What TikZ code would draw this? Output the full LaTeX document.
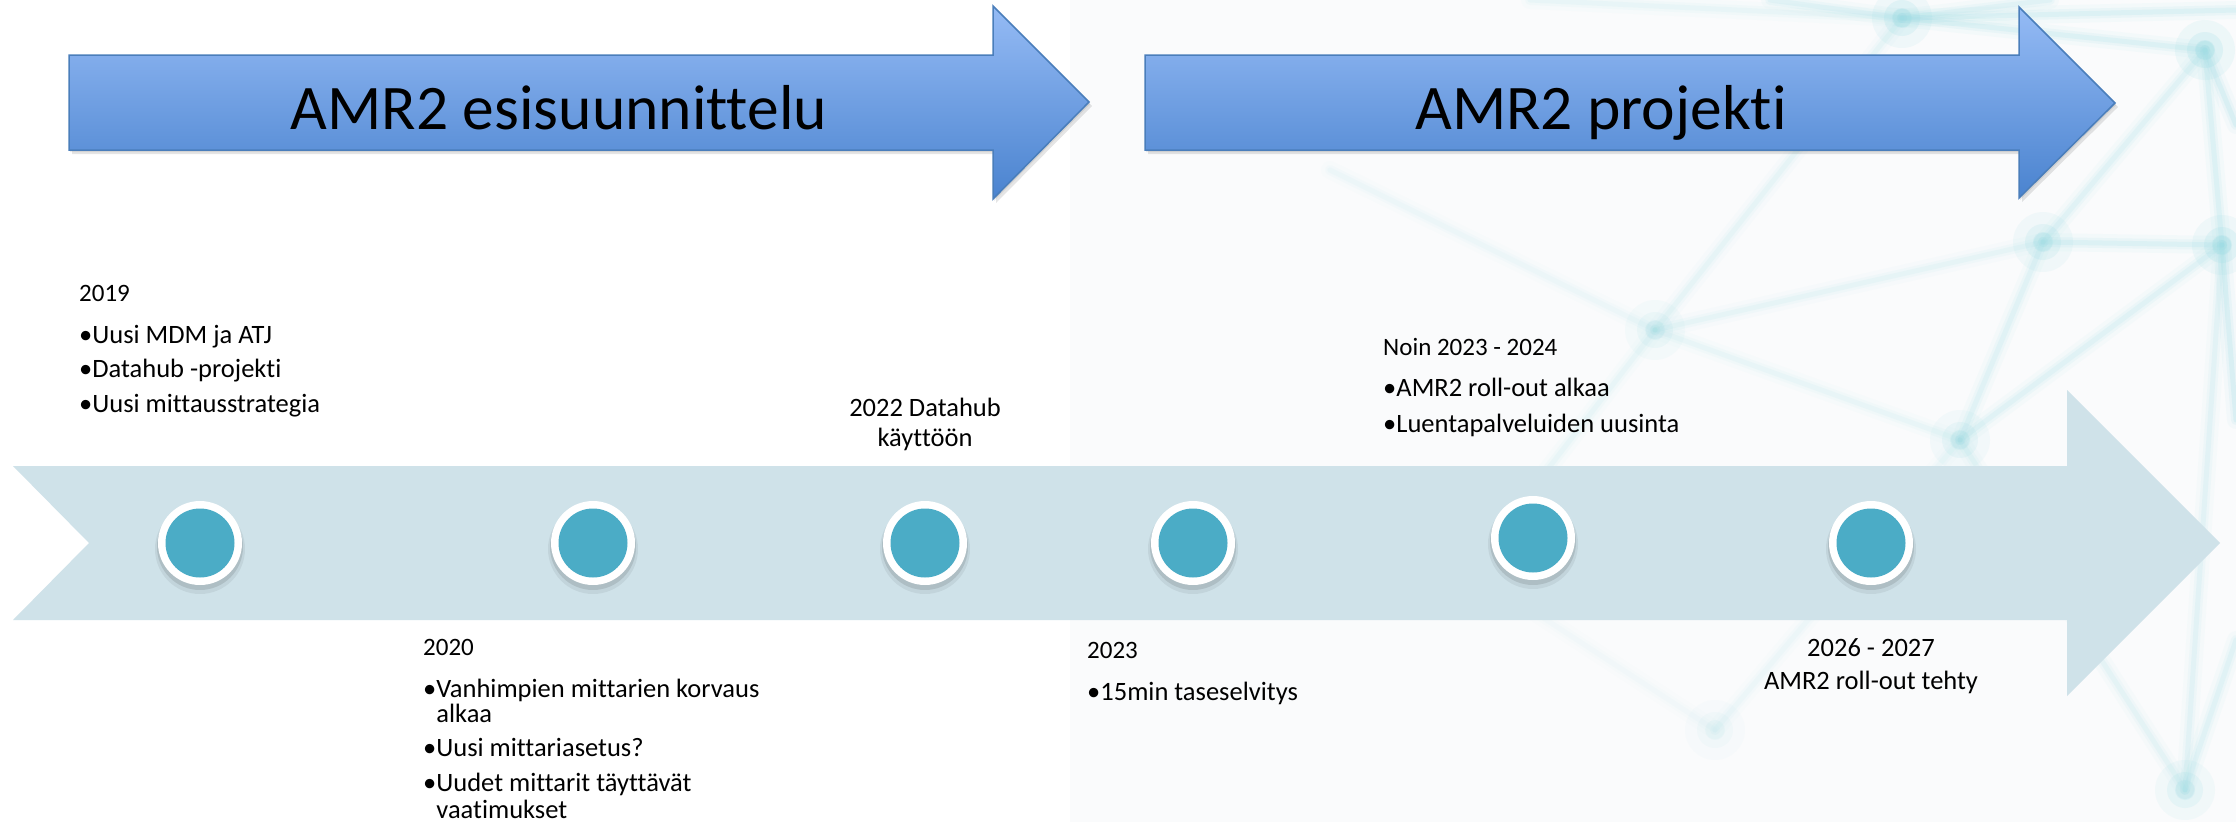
\documentclass[tikz,border=0pt]{standalone}
\usepackage{fontspec}
\setmainfont{Carlito}[Ligatures={NoCommon}]
\usetikzlibrary{calc}

\definecolor{bandcol}{HTML}{CFE2E9}
\definecolor{dotcol}{HTML}{4BACC6}
\definecolor{phaseTop}{HTML}{95BBF5}
\definecolor{phaseBot}{HTML}{4A83CF}
\definecolor{phaseEdge}{HTML}{4A7EBB}
\definecolor{netcol}{HTML}{9ADCE4}
\definecolor{paper}{HTML}{FAFBFC}

\begin{document}
\begin{tikzpicture}[x=1pt,y=-1pt,
  every node/.style={inner sep=0pt, text=black},
  yearlbl/.style={font=\fontsize{25}{30}\selectfont, anchor=base west},
  itemlbl/.style={font=\fontsize{26.5}{30}\selectfont, anchor=base west},
  centerlbl/.style={font=\fontsize{26.5}{30}\selectfont, anchor=base},
  titlelbl/.style={font=\fontsize{63.5}{76}\selectfont, anchor=base},
  phasearrow/.style={top color=phaseTop, bottom color=phaseBot, draw=phaseEdge, line width=1.5pt, line join=miter},
  phaseshadow/.style={fill=black, opacity=#1},
  netwide/.style={draw=netcol, line cap=round, line width=18pt, opacity=#1},
  netmid/.style={draw=netcol, line cap=round, line width=10pt, opacity=#1},
  netcore/.style={draw=netcol, line cap=round, line width=5pt, opacity=#1},
  ring/.style={circle, fill=white, minimum size=84pt},
]
\useasboundingbox (0,0) rectangle (2236,822);
\fill[white] (0,0) rectangle (2236,822);

% ---------- soft network backdrop on the right ----------
\fill[paper] (1070,0) rectangle (2236,822);
\coordinate (n1) at (1902,18);
\coordinate (n2) at (2205,50);
\coordinate (n3) at (2043,242);
\coordinate (n4) at (2222,245);
\coordinate (n5) at (1655,330);
\coordinate (n6) at (1960,440);
\coordinate (n7) at (1715,730);
\coordinate (n8) at (2185,790);
\coordinate (e1) at (1530,0);
\coordinate (e2) at (1770,0);
\coordinate (e3) at (2050,0);
\coordinate (e4) at (2236,10);
\coordinate (e5) at (2236,125);
\coordinate (e6) at (2236,420);
\coordinate (e7) at (1330,170);
\coordinate (e8) at (1470,570);
\coordinate (e9) at (2236,640);
\foreach \a/\b/\o in {n1/n2/.35, n1/e4/.35, n1/e2/.3, n1/e3/.3, n1/n5/.22, n1/e1/.18,
                      n2/e5/.4, n2/n3/.3, n2/n4/.35, n3/n4/.35, n3/n5/.22, n3/n6/.3,
                      n4/e6/.4, n4/n6/.3, n5/e7/.14, n5/e8/.18, n5/n6/.18, n6/n8/.25,
                      n6/n7/.14, n8/e9/.3, n4/n8/.28, n7/e8/.1}{
  \draw[netwide=\o*0.18] (\a) -- (\b);
  \draw[netmid=\o*0.3] (\a) -- (\b);
  \draw[netcore=\o*0.45] (\a) -- (\b);
}
\foreach \n/\o in {n1/.45, n2/.5, n3/.4, n4/.45, n5/.25, n6/.3, n7/.15, n8/.35}{
  \fill[netcol, opacity=\o*0.25] (\n) circle (30);
  \fill[netcol, opacity=\o*0.4] (\n) circle (18);
  \fill[netcol, opacity=\o*0.5] (\n) circle (10);
}

% ---------- phase arrows ----------
\fill[phaseshadow=.10] (72,59) -- (996,59) -- (996,10) -- (1092,106) -- (996,203) -- (996,154) -- (72,154) -- cycle;
\fill[phaseshadow=.08] (70,57) -- (994,57) -- (994,8) -- (1090,104) -- (994,201) -- (994,152) -- (70,152) -- cycle;
\path[phasearrow] (69,55) -- (993,55) -- (993,6) -- (1089,102) -- (993,199) -- (993,150) -- (69,150) -- cycle;
\node[titlelbl] (ph1) at (559,129) {AMR2 esisuunnittelu};

\fill[phaseshadow=.10] (1148,59) -- (2022,59) -- (2022,11) -- (2118,107) -- (2022,202) -- (2022,154) -- (1148,154) -- cycle;
\fill[phaseshadow=.08] (1146,57) -- (2020,57) -- (2020,9) -- (2116,105) -- (2020,200) -- (2020,152) -- (1146,152) -- cycle;
\path[phasearrow] (1145,55) -- (2019,55) -- (2019,7) -- (2115,103) -- (2019,198) -- (2019,150) -- (1145,150) -- cycle;
\node[titlelbl] (ph2) at (1601,129) {AMR2 projekti};

% ---------- timeline band ----------
\fill[bandcol] (13,466) -- (2067,466) -- (2067,390) -- (2220,543) -- (2067,696) -- (2067,620) -- (13,620) -- (89,543) -- cycle;

% ---------- milestones ----------
\foreach \nm/\cx/\cy in {m1/200/543, m2/593/543, m3/925/543, m4/1193/543, m5/1533/538, m6/1871/543}{
  \fill[black, opacity=.06] (\cx,\cy+6) circle (45);
  \fill[black, opacity=.10] (\cx,\cy+4) circle (43);
  \node[ring] (\nm) at (\cx,\cy) {};
  \fill[dotcol] (\nm.center) circle (34.5);
}

% ---------- labels above the band ----------
\node[yearlbl] (y19) at (79,301) {2019};
\node[itemlbl] (y19a) at (79,343) {•Uusi MDM ja ATJ};
\node[itemlbl] (y19b) at (79,377) {•Datahub -projekti};
\node[itemlbl] (y19c) at (79,412) {•Uusi mittausstrategia};

\node[centerlbl] (y22a) at (925,416) {2022 Datahub};
\node[centerlbl] (y22b) at (925,446) {käyttöön};

\node[yearlbl] (y24) at (1383,355) {Noin 2023 - 2024};
\node[itemlbl] (y24a) at (1383,396) {•AMR2 roll-out alkaa};
\node[itemlbl] (y24b) at (1383,432) {•Luentapalveluiden uusinta};

% ---------- labels below the band ----------
\node[yearlbl] (y20) at (423,655) {2020};
\node[itemlbl] (y20a) at (423,697) {•Vanhimpien mittarien korvaus};
\node[itemlbl] (y20b) at (423,722) {\hphantom{•}alkaa};
\node[itemlbl] (y20c) at (423,756) {•Uusi mittariasetus?};
\node[itemlbl] (y20d) at (423,791) {•Uudet mittarit täyttävät};
\node[itemlbl] (y20e) at (423,818) {\hphantom{•}vaatimukset};

\node[yearlbl] (y23) at (1087,658) {2023};
\node[itemlbl] (y23a) at (1087,700) {•15min taseselvitys};

\node[centerlbl] (y27a) at (1871,656) {2026 - 2027};
\node[centerlbl] (y27b) at (1871,689) {AMR2 roll-out tehty};
\end{tikzpicture}
\end{document}
